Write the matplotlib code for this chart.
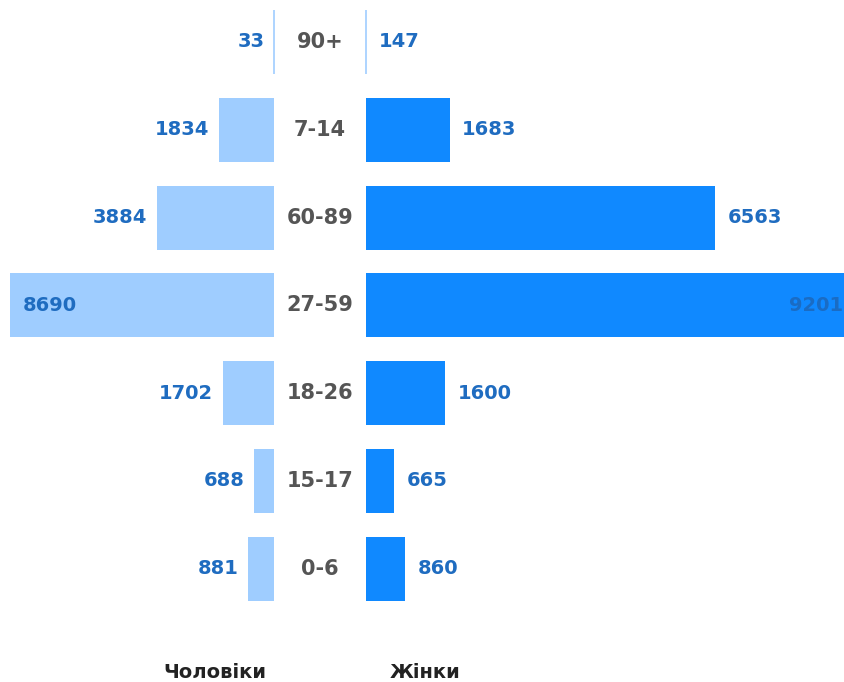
import matplotlib.pyplot as plt

# ── DATA ──────────────────────────────────────────────────────────────────────
age_groups = ['90+', '7-14', '60-89', '27-59', '18-26', '15-17', '0-6']
men = [33, 1834, 3884, 8690, 1702, 688, 881]
women = [147, 1683, 6563, 9201, 1600, 665, 860]

# ── STYLE ─────────────────────────────────────────────────────────────────────
MEN_COLOR = '#9fcdff'
WOMEN_COLOR = '#1089ff'
LINE_COLOR = '#9fcdff'
VALUE_COLOR = '#1f6cc0'
AGE_COLOR = '#555555'
FONT = 'DejaVu Sans'

W, H = 844, 682
fig = plt.figure(figsize=(W / 100, H / 100), dpi=100)

rows = list(range(len(age_groups)))
ylim = (7.29, -0.478)
bar_h = 0.73

# left panel: men, bars grow to the left from x=274 px
ax_l = fig.add_axes([0, 0, 274 / W, 1])
m_min = min(men)
ax_l.barh(rows, [v - m_min for v in men], left=m_min, height=bar_h,
          color=MEN_COLOR, linewidth=0)
ax_l.set_xlim(m_min + 274 / (264 / (max(men) - m_min)), m_min)
ax_l.set_ylim(*ylim)
ax_l.axis('off')

# right panel: women, bars grow to the right from x=366 px
ax_r = fig.add_axes([366 / W, 0, (W - 366) / W, 1])
w_min = min(women)
ax_r.barh(rows, [v - w_min for v in women], left=w_min, height=bar_h,
          color=WOMEN_COLOR, linewidth=0)
w_scale = 349 / (6563 - w_min)
ax_r.set_xlim(w_min, w_min + (W - 366) / w_scale)
ax_r.set_ylim(*ylim)
ax_r.axis('off')

# the smallest group shows only as a thin line at the base
for ax, vals in ((ax_l, men), (ax_r, women)):
    i = vals.index(min(vals))
    ax.vlines(min(vals), i - bar_h / 2, i + bar_h / 2, color=LINE_COLOR,
              linewidth=1.2, clip_on=False)

# value labels
for i, v in enumerate(men):
    if v == max(men):
        ax_l.annotate(str(v), (v, i), xytext=(9, 0), textcoords='offset points',
                      ha='left', va='center', fontsize=14, fontweight='bold',
                      color=VALUE_COLOR, family=FONT)
    else:
        ax_l.annotate(str(v), (v, i), xytext=(-7, 0), textcoords='offset points',
                      ha='right', va='center', fontsize=14, fontweight='bold',
                      color=VALUE_COLOR, family=FONT)

for i, v in enumerate(women):
    if v == max(women):
        ax_r.text(0.999, i, str(v), transform=ax_r.get_yaxis_transform(),
                  ha='right', va='center', fontsize=14, fontweight='bold',
                  color='#1a6cc4', family=FONT)
    else:
        ax_r.annotate(str(v), (v, i), xytext=(9, 0), textcoords='offset points',
                      ha='left', va='center', fontsize=14, fontweight='bold',
                      color=VALUE_COLOR, family=FONT)

# age group labels in the middle
for i, g in enumerate(age_groups):
    y = 1 - (i - ylim[1]) / (ylim[0] - ylim[1])
    fig.text(320 / W, y, g, ha='center', va='center', fontsize=15,
             fontweight='bold', color=AGE_COLOR, family=FONT)

# bottom titles
fig.text(215 / W, 1 - 672 / H, 'Чоловіки', ha='center', va='center',
         fontsize=14, fontweight='bold', color='#222222', family=FONT)
fig.text(425 / W, 1 - 672 / H, 'Жінки', ha='center', va='center',
         fontsize=14, fontweight='bold', color='#222222', family=FONT)

fig.savefig('out.png', dpi=100)
